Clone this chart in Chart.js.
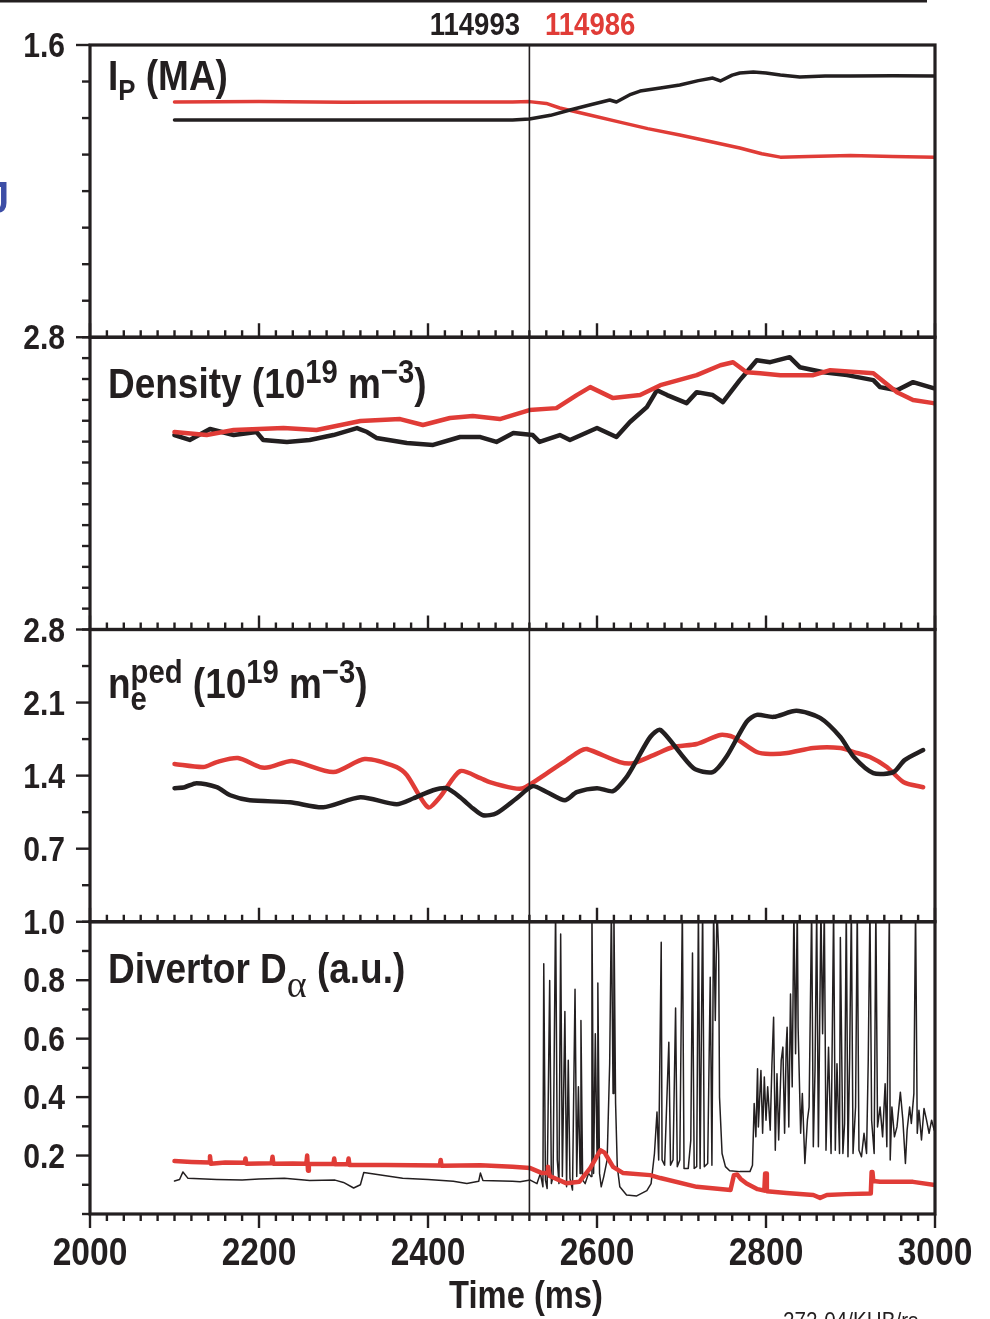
<!DOCTYPE html>
<html>
<head>
<meta charset="utf-8">
<script src="https://cdn.jsdelivr.net/npm/chart.js@4.4.0/dist/chart.umd.min.js"></script>
<style>
  html, body { margin: 0; padding: 0; background: #fff; }
  #wrap { position: relative; width: 990px; height: 1319px; }
</style>
</head>
<body>
<div id="wrap"><canvas id="shots"></canvas></div>
<script>
const FONT = '"Liberation Sans", Arial, sans-serif';
const SERIF = '"Liberation Serif", "DejaVu Serif", serif';
const SQUEEZE = 0.86;   // condensed look for all lettering
const INK = '#231f20';
const RED = '#e03c37';

// ---- shots and time marker ----
const shotNames = ['114993', '114986'];
const markTime = 2520;

// ---- tick labels ----
const xTickLabels = [2000, 2200, 2400, 2600, 2800, 3000];
const ipTickLabels = [1.6];
const densTickLabels = [2.8];
const npedTickLabels = [2.8, 2.1, 1.4, 0.7];
const dalphaTickLabels = [1.0, 0.8, 0.6, 0.4, 0.2];

// ---- plasma current (MA), [time ms, value] ----
const ip993 = [[2100,1.19],[2200,1.19],[2300,1.19],[2400,1.19],[2500,1.19],[2520,1.195],[2545,1.215],[2568,1.244],
  [2590,1.27],[2615,1.299],[2623,1.288],[2640,1.33],[2651,1.348],[2675,1.365],[2698,1.381],[2720,1.405],[2737,1.419],
  [2746,1.403],[2760,1.435],[2769,1.447],[2785,1.452],[2800,1.447],[2817,1.436],[2840,1.425],[2870,1.43],[2900,1.43],
  [2950,1.432],[3000,1.43]];
const ip986 = [[2100,1.288],[2200,1.29],[2300,1.286],[2400,1.288],[2500,1.288],[2520,1.29],[2540,1.28],[2556,1.255],
  [2590,1.218],[2627,1.178],[2660,1.142],[2698,1.107],[2735,1.07],[2769,1.036],[2795,1.005],[2817,0.986],[2850,0.99],
  [2900,0.995],[2950,0.99],[3000,0.985]];

// ---- line density ----
const dens993 = [[2100,1.863],[2118,1.816],[2142,1.921],[2170,1.863],[2197,1.892],[2205,1.816],[2233,1.797],[2260,1.816],
  [2288,1.863],[2316,1.930],[2328,1.892],[2339,1.835],[2375,1.787],[2406,1.768],[2438,1.844],[2462,1.844],[2481,1.797],
  [2501,1.883],[2524,1.863],[2532,1.797],[2556,1.863],[2568,1.816],[2600,1.930],[2623,1.844],[2639,1.988],[2659,2.131],
  [2671,2.293],[2683,2.246],[2706,2.169],[2718,2.274],[2737,2.246],[2749,2.179],[2769,2.389],[2777,2.465],[2789,2.580],
  [2805,2.561],[2828,2.609],[2840,2.513],[2868,2.465],[2896,2.437],[2927,2.389],[2935,2.322],[2955,2.293],[2974,2.370],
  [2998,2.313]];
const dens986 = [[2100,1.892],[2138,1.863],[2170,1.911],[2229,1.930],[2268,1.911],[2320,1.997],[2367,2.016],[2394,1.959],
  [2426,2.026],[2453,2.045],[2485,2.016],[2520,2.102],[2552,2.121],[2576,2.246],[2592,2.322],[2619,2.217],[2651,2.246],
  [2675,2.341],[2718,2.437],[2746,2.532],[2761,2.561],[2777,2.465],[2793,2.456],[2817,2.437],[2856,2.437],[2876,2.485],
  [2927,2.456],[2955,2.274],[2974,2.198],[2998,2.169]];

// ---- pedestal density ----
const nped993 = [[2100,1.280],[2112,1.289],[2126,1.328],[2150,1.289],[2166,1.212],[2189,1.164],[2237,1.145],[2276,1.097],
  [2320,1.193],[2363,1.126],[2383,1.183],[2406,1.260],[2422,1.280],[2438,1.193],[2453,1.087],[2465,1.020],[2481,1.039],
  [2505,1.183],[2524,1.299],[2541,1.241],[2562,1.164],[2576,1.241],[2600,1.280],[2619,1.251],[2635,1.386],[2647,1.549],
  [2663,1.770],[2675,1.838],[2714,1.472],[2737,1.434],[2753,1.578],[2777,1.915],[2789,1.982],[2809,1.963],[2836,2.021],
  [2864,1.953],[2888,1.770],[2904,1.578],[2927,1.424],[2951,1.434],[2964,1.549],[2986,1.645]];
const nped986 = [[2100,1.511],[2134,1.482],[2150,1.530],[2175,1.568],[2201,1.482],[2213,1.482],[2239,1.540],[2288,1.434],
  [2325,1.559],[2363,1.482],[2375,1.405],[2400,1.097],[2414,1.193],[2438,1.443],[2462,1.376],[2473,1.337],[2501,1.280],
  [2513,1.280],[2541,1.424],[2564,1.549],[2580,1.636],[2588,1.655],[2627,1.530],[2643,1.520],[2667,1.597],[2690,1.674],
  [2718,1.703],[2746,1.790],[2761,1.770],[2789,1.626],[2805,1.607],[2825,1.616],[2856,1.665],[2888,1.665],[2904,1.626],
  [2923,1.578],[2943,1.482],[2963,1.337],[2986,1.289]];

// ---- divertor D-alpha (ELM spikes run off the top at 1.05) ----
const dalpha993 = [[2100,0.113],[2106,0.118],[2110,0.144],[2116,0.122],[2150,0.118],[2180,0.116],[2200,0.12],[2230,0.122],
  [2260,0.115],[2290,0.116],[2300,0.108],[2312,0.089],[2320,0.1],[2324,0.142],[2340,0.135],[2370,0.122],[2400,0.118],
  [2430,0.112],[2446,0.104],[2460,0.112],[2462,0.14],[2465,0.115],[2500,0.112],
  [2509,0.11],[2521,0.116],[2529,0.104],[2533,0.139],[2536,0.093],[2537,0.856],[2539,0.116],[2541,0.087],[2544,0.799],
  [2546,0.104],[2548,0.128],[2551,1.05],[2553,0.185],[2555,0.104],[2557,0.958],[2559,0.128],[2562,0.693],[2564,0.093],
  [2566,0.526],[2568,0.122],[2571,0.082],[2574,0.769],[2576,0.128],[2578,0.435],[2580,0.139],[2581,0.662],[2583,0.116],
  [2586,0.104],[2590,0.139],[2593,0.128],[2594,1.05],[2596,0.139],[2598,0.617],[2600,0.207],[2601,0.79],[2603,0.139],
  [2605,0.093],[2608,0.128],[2612,0.185],[2615,0.514],[2617,1.05],[2619,0.412],[2620,1.05],[2622,0.378],[2624,0.162],
  [2627,0.093],[2635,0.065],[2647,0.062],[2659,0.08],[2664,0.104],[2668,0.207],
  [2671,0.349],[2673,0.185],[2676,0.93],[2677,0.185],[2680,0.167],[2685,0.588],[2687,0.167],[2690,0.185],[2693,0.705],
  [2695,0.162],[2698,0.185],[2701,1.05],[2703,0.156],[2708,0.156],[2711,0.253],[2713,0.893],[2715,0.156],[2718,0.162],
  [2720,1.05],[2722,0.156],[2725,1.05],[2727,0.162],[2731,0.173],[2734,0.81],[2736,0.167],[2738,1.05],[2740,0.662],
  [2742,1.05],[2744,0.89],[2745,0.4],[2748,0.207],[2752,0.162],[2757,0.148],[2769,0.145],[2781,0.145],[2784,0.167],
  [2786,0.378],[2788,0.264],[2790,0.497],
  [2791,0.298],[2794,0.491],[2796,0.276],[2798,0.469],[2800,0.321],[2802,0.435],[2805,0.287],[2807,0.51],[2809,0.673],
  [2811,0.218],[2813,0.48],[2815,0.253],[2818,0.526],[2820,0.571],[2822,0.276],[2824,0.58],[2825,0.639],[2827,0.298],
  [2829,0.753],[2831,0.435],[2833,1.05],[2835,0.548],[2837,1.05],
  [2838,0.639],[2841,0.276],[2843,0.412],[2846,0.173],[2849,0.321],[2851,0.366],[2854,1.05],[2856,0.23],[2858,0.491],
  [2860,1.05],[2862,0.23],[2865,1.05],[2867,0.617],[2869,1.05],[2871,0.218],[2874,0.571],[2877,0.207],[2880,1.05],
  [2882,0.218],[2884,0.514],[2887,0.207],[2888,0.946],[2891,0.207],[2893,0.31],[2895,1.05],[2897,0.196],[2899,0.537],
  [2901,1.05],[2903,0.207],[2906,0.366],[2908,1.05],[2910,0.218],[2913,0.196],[2916,0.276],[2919,0.207],[2921,0.526],
  [2923,1.05],[2925,0.321],[2928,0.207],[2930,1.05],[2932,0.298],[2935,0.366],[2938,0.264],[2941,0.446],[2943,0.23],
  [2946,1.05],[2947,0.185],[2949,0.366],[2952,0.264],[2955,0.298],[2959,0.417],[2962,0.321],[2965,0.173],[2967,0.287],
  [2970,0.366],[2972,0.31],[2975,0.412],[2977,1.05],[2979,0.276],[2981,0.355],[2984,0.253],[2987,0.361],[2990,0.321],
  [2993,0.276],[2996,0.321],[2999,0.287]];
const dalpha986 = [[2100,0.181],[2120,0.178],[2141,0.176],[2142,0.198],[2143,0.172],[2160,0.176],[2183,0.175],[2184,0.19],
  [2185,0.172],[2215,0.174],[2216,0.196],[2217,0.172],[2240,0.173],[2256,0.172],[2257,0.2],[2258,0.148],[2259,0.172],
  [2288,0.171],[2289,0.19],[2290,0.17],[2305,0.17],[2306,0.19],[2307,0.168],[2350,0.168],[2414,0.166],[2415,0.185],
  [2416,0.165],[2462,0.167],[2500,0.162],[2521,0.157],[2535,0.14],[2541,0.14],[2542,0.162],[2544,0.13],[2564,0.105],
  [2579,0.11],[2592,0.157],[2604,0.218],[2609,0.21],[2619,0.161],[2631,0.14],[2663,0.133],[2675,0.123],[2718,0.093],
  [2758,0.082],[2762,0.133],[2766,0.135],[2770,0.12],[2777,0.104],[2790,0.085],[2798,0.08],[2799,0.139],[2800,0.139],
  [2801,0.078],[2824,0.072],[2856,0.065],[2864,0.055],[2872,0.065],[2895,0.068],[2924,0.07],[2925,0.144],[2926,0.144],
  [2927,0.113],[2935,0.11],[2974,0.11],[3000,0.099]];

const toXY = arr => arr.map(([x, y]) => ({ x, y }));

function trace(label, data, axis, color, width, tension) {
  return {
    label, data: toXY(data), yAxisID: axis,
    borderColor: color, borderWidth: width, pointRadius: 0,
    tension: tension || 0, borderJoinStyle: 'round', borderCapStyle: 'round', fill: false
  };
}

// one stacked panel axis; labels are lettered by the annotations plugin
function panelAxis(weight, max, step) {
  return {
    type: 'linear', position: 'left', stack: 'panels', stackWeight: 1, weight,
    min: 0, max,
    grid: { display: false, drawTicks: false },
    border: { display: false },
    ticks: { display: false, stepSize: step, autoSkip: false, maxTicksLimit: 100 },
    afterFit: s => { s.width = 90; }
  };
}

const panelIds = ['yIp', 'yDens', 'yNped', 'yDalpha'];
const panelLabels = { yIp: ipTickLabels, yDens: densTickLabels, yNped: npedTickLabels, yDalpha: dalphaTickLabels };

// rich-text panel captions, parts drawn left to right
const captions = {
  yIp: { dy: 45, parts: [
    { text: 'I', size: 43 }, { text: 'P', size: 30, dy: 10 }, { text: ' (MA)', size: 43 }] },
  yDens: { dy: 61, parts: [
    { text: 'Density (10', size: 43 }, { text: '19', size: 34, dy: -15 }, { text: ' m', size: 43 },
    { text: '\u22123', size: 34, dy: -15 }, { text: ')', size: 43 }] },
  yNped: { dy: 68, parts: [
    { text: 'n', size: 43 }, { text: 'ped', size: 34, dy: -15 }, { text: 'e', size: 34, dy: 12, stack: true },
    { text: ' (10', size: 43 }, { text: '19', size: 34, dy: -15 }, { text: ' m', size: 43 },
    { text: '\u22123', size: 34, dy: -15 }, { text: ')', size: 43 }] },
  yDalpha: { dy: 61, parts: [
    { text: 'Divertor D', size: 43 }, { text: '\u03b1', size: 38, dy: 14, family: SERIF, weight: 'normal', plain: true },
    { text: ' (a.u.)', size: 43 }] }
};

// text narrowed horizontally; returns drawn width
function squeezed(ctx, text, x, y, font, align, sx) {
  const k = sx || SQUEEZE;
  ctx.font = font;
  const w = ctx.measureText(text).width * k;
  const x0 = align === 'right' ? x - w : align === 'center' ? x - w / 2 : x;
  ctx.save();
  ctx.translate(x0, y);
  ctx.scale(k, 1);
  ctx.textAlign = 'left';
  ctx.fillText(text, 0, 0);
  ctx.restore();
  return w;
}

function drawParts(ctx, x, y, parts) {
  let cx = x, start = x, prevW = 0;
  parts.forEach(p => {
    const font = `${p.weight || 'bold'} ${p.size}px ${p.family || FONT}`;
    const k = p.plain ? 1 : SQUEEZE;
    if (p.stack) {
      const w = squeezed(ctx, p.text, start, y + (p.dy || 0), font, 'left', k);
      cx = start + Math.max(prevW, w);
    } else {
      start = cx;
      prevW = squeezed(ctx, p.text, cx, y + (p.dy || 0), font, 'left', k);
      cx += prevW;
    }
  });
}

// boxes, tick marks, time marker
const panelFrames = {
  id: 'panelFrames',
  afterDatasetsDraw(chart) {
    const { ctx } = chart;
    const x = chart.scales.x;
    ctx.save();
    ctx.strokeStyle = INK;
    const mx = x.getPixelForValue(markTime);
    ctx.lineWidth = 1.6;
    ctx.beginPath();
    ctx.moveTo(mx, chart.chartArea.top);
    ctx.lineTo(mx, chart.chartArea.bottom);
    ctx.stroke();
    panelIds.forEach((id, i) => {
      const y = chart.scales[id];
      const labels = panelLabels[id];
      const last = i === panelIds.length - 1;
      ctx.lineWidth = 2.4;
      y.ticks.forEach(t => {
        const py = y.getPixelForValue(t.value);
        const len = labels.some(l => Math.abs(l - t.value) < 1e-6) ? 14 : 8;
        ctx.beginPath(); ctx.moveTo(x.left - len, py); ctx.lineTo(x.left, py); ctx.stroke();
      });
      x.ticks.forEach(t => {
        const px = x.getPixelForValue(t.value);
        const len = Math.round(t.value) % 200 === 0 ? 14 : 7;
        ctx.beginPath(); ctx.moveTo(px, y.bottom); ctx.lineTo(px, y.bottom + (last ? len : -len)); ctx.stroke();
      });
      ctx.lineWidth = 3.2;
      ctx.strokeRect(x.left, y.top, x.right - x.left, y.bottom - y.top);
    });
    ctx.restore();
  }
};

const annotations = {
  id: 'annotations',
  afterDraw(chart) {
    const { ctx } = chart;
    const x = chart.scales.x;
    ctx.save();
    ctx.fillStyle = INK;
    ctx.textBaseline = 'alphabetic';
    // tick labels
    panelIds.forEach(id => {
      const y = chart.scales[id];
      panelLabels[id].forEach(v => {
        squeezed(ctx, v.toFixed(1), 65, y.getPixelForValue(v) + 12, `bold 35px ${FONT}`, 'right');
      });
    });
    xTickLabels.forEach(v => {
      squeezed(ctx, String(v), x.getPixelForValue(v), 1265, `bold 39px ${FONT}`, 'center');
    });
    // panel captions
    panelIds.forEach(id => {
      const c = captions[id];
      drawParts(ctx, x.left + 18, chart.scales[id].top + c.dy, c.parts);
    });
    // shot numbers
    squeezed(ctx, shotNames[0], 520, 35, `bold 32px ${FONT}`, 'right');
    ctx.fillStyle = RED;
    squeezed(ctx, shotNames[1], 545, 35, `bold 32px ${FONT}`, 'left');
    // axis title
    ctx.fillStyle = INK;
    squeezed(ctx, 'Time (ms)', 526, 1308, `bold 38px ${FONT}`, 'center');
    // figure id, cut by the page edge
    squeezed(ctx, '272-04/KHB/rs', 783, 1329, `24px ${FONT}`, 'left');
    // rule along the top
    ctx.fillRect(0, 0, 927, 2.5);
    // edge of a neighbouring letter
    ctx.fillStyle = '#3d4ea6';
    squeezed(ctx, 'J', -12, 213, `bold 44px ${FONT}`, 'left');
    ctx.restore();
  }
};

new Chart(document.getElementById('shots'), {
  type: 'line',
  data: {
    datasets: [
      trace(shotNames[0], ip993, 'yIp', INK, 3.5),
      trace(shotNames[1], ip986, 'yIp', RED, 3.5),
      trace(shotNames[1], dens986, 'yDens', RED, 4.5),
      trace(shotNames[0], dens993, 'yDens', INK, 4.5),
      trace(shotNames[0], nped993, 'yNped', INK, 4.5, 0.25),
      trace(shotNames[1], nped986, 'yNped', RED, 4.5, 0.25),
      trace(shotNames[1], dalpha986, 'yDalpha', RED, 4.5),
      trace(shotNames[0], dalpha993, 'yDalpha', INK, 1.5)
    ]
  },
  options: {
    responsive: true,
    maintainAspectRatio: false,
    animation: false,
    layout: { padding: { left: 0, right: 55, top: 45, bottom: 0 } },
    plugins: { legend: { display: false }, tooltip: { enabled: false } },
    scales: {
      x: {
        type: 'linear', position: 'bottom', min: 2000, max: 3000,
        grid: { display: false, drawTicks: false },
        border: { display: false },
        ticks: { display: false, stepSize: 20, autoSkip: false, maxTicksLimit: 100 },
        afterFit: s => { s.height = 105; }
      },
      yIp: panelAxis(4, 1.6, 0.2),
      yDens: panelAxis(3, 2.8, 0.2),
      yNped: panelAxis(2, 2.8, 0.35),
      yDalpha: panelAxis(1, 1.0, 0.1)
    }
  },
  plugins: [panelFrames, annotations]
});
</script>
</body>
</html>
